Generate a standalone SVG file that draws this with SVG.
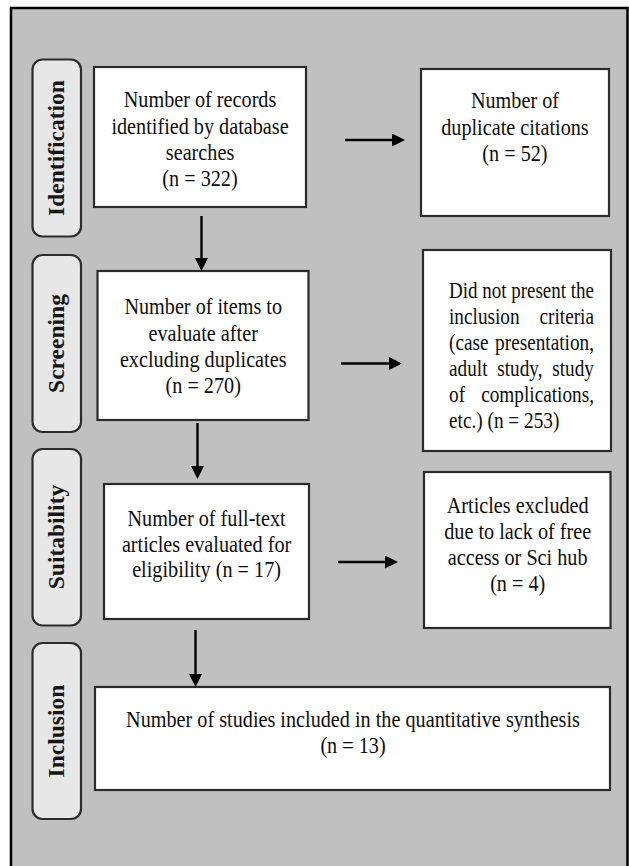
<svg xmlns="http://www.w3.org/2000/svg" width="629" height="866" viewBox="0 0 629 866">
<style>
.bg{fill:#c0c0c0;stroke:#000;stroke-width:2.5}
.box{fill:#fff;stroke:#2b2b2b;stroke-width:2.2}
.pill{fill:#e7e7e7;stroke:#2b2b2b;stroke-width:2.2}
.t{font-family:"Liberation Serif","Times New Roman",serif;font-size:23.5px;fill:#0d0d0d}
.c{text-anchor:middle}
.e{text-anchor:end}
.lab{font-family:"Liberation Serif","Times New Roman",serif;font-size:23.5px;font-weight:bold;fill:#151515;text-anchor:middle}
.con line{stroke:#000;stroke-width:2.4;marker-end:url(#ah)}
</style>
<defs>
<marker id="ah" markerUnits="userSpaceOnUse" markerWidth="14" markerHeight="14" refX="6" refY="6.5" orient="auto">
<path d="M0,0 L13,6.5 L0,13 z" fill="#000"/>
</marker>
</defs>
<rect width="629" height="866" fill="#fff"/>
<rect class="bg" x="11" y="8" width="616.5" height="880"/>

<g id="stage-identification">
<rect class="pill" x="32.5" y="59.5" width="48.5" height="177" rx="10"/>
<text class="lab" x="63.5" y="148" transform="rotate(-90 63.5 148)">Identification</text>
</g>
<g id="stage-screening">
<rect class="pill" x="32.5" y="255" width="48.5" height="177" rx="10"/>
<text class="lab" x="63.5" y="343.5" transform="rotate(-90 63.5 343.5)">Screening</text>
</g>
<g id="stage-suitability">
<rect class="pill" x="32.5" y="449" width="48.5" height="176.5" rx="10"/>
<text class="lab" x="63.5" y="537" transform="rotate(-90 63.5 537)">Suitability</text>
</g>
<g id="stage-inclusion">
<rect class="pill" x="32.5" y="643" width="48.5" height="176" rx="10"/>
<text class="lab" x="63.5" y="731" transform="rotate(-90 63.5 731)">Inclusion</text>
</g>

<g id="records">
<rect class="box" x="94" y="67" width="212" height="140"/>
<g transform="scale(0.86 1)">
<text class="t c" x="232.6" y="107.5">Number of records</text>
<text class="t c" x="232.6" y="133.8">identified by database</text>
<text class="t c" x="232.6" y="160.1">searches</text>
<text class="t c" x="232.6" y="186.4">(n = 322)</text>
</g>
</g>

<g id="duplicates">
<rect class="box" x="421" y="69" width="188" height="147"/>
<g transform="scale(0.86 1)">
<text class="t c" x="598.8" y="108.5">Number of</text>
<text class="t c" x="598.8" y="135">duplicate citations</text>
<text class="t c" x="598.8" y="161.5">(n = 52)</text>
</g>
</g>

<g id="screened">
<rect class="box" x="97.5" y="271" width="211" height="149"/>
<g transform="scale(0.86 1)">
<text class="t c" x="236.3" y="314.5">Number of items to</text>
<text class="t c" x="236.3" y="340.8">evaluate after</text>
<text class="t c" x="236.3" y="367.1">excluding duplicates</text>
<text class="t c" x="236.3" y="393.4">(n = 270)</text>
</g>
</g>

<g id="excluded-criteria">
<rect class="box" x="423" y="250" width="188" height="201"/>
<g transform="scale(0.82 1)">
<text class="t" x="547.6" y="298" textLength="176.8" lengthAdjust="spacingAndGlyphs">Did not present the</text>
<text class="t" x="547.6" y="324.5">inclusion</text>
<text class="t e" x="724.4" y="324.5">criteria</text>
<text class="t" x="547.6" y="350.5">(case</text>
<text class="t e" x="724.4" y="350.5">presentation,</text>
<text class="t" x="547.6" y="376.5">adult</text>
<text class="t c" x="634" y="376.5">study,</text>
<text class="t e" x="724.4" y="376.5">study</text>
<text class="t" x="547.6" y="402.5">of</text>
<text class="t e" x="724.4" y="402.5">complications,</text>
<text class="t" x="547.6" y="428">etc.) (n = 253)</text>
</g>
</g>

<g id="fulltext">
<rect class="box" x="104" y="484" width="205" height="135"/>
<g transform="scale(0.86 1)">
<text class="t c" x="240.2" y="526">Number of full-text</text>
<text class="t c" x="240.2" y="552">articles evaluated for</text>
<text class="t c" x="240.2" y="577.5">eligibility (n = 17)</text>
</g>
</g>

<g id="excluded-access">
<rect class="box" x="424" y="472" width="186.5" height="156"/>
<g transform="scale(0.86 1)">
<text class="t c" x="602" y="513">Articles excluded</text>
<text class="t c" x="602" y="539">due to lack of free</text>
<text class="t c" x="602" y="565">access or Sci hub</text>
<text class="t c" x="602" y="591">(n = 4)</text>
</g>
</g>

<g id="included">
<rect class="box" x="95" y="687" width="515" height="103"/>
<g transform="scale(0.86 1)">
<text class="t c" x="410.5" y="727.3">Number of studies included in the quantitative synthesis</text>
<text class="t c" x="410.5" y="753.3">(n = 13)</text>
</g>
</g>

<g id="connectors" class="con">
<line x1="345" y1="140" x2="398" y2="140"/>
<line x1="201.5" y1="216" x2="201.5" y2="264"/>
<line x1="341" y1="363.5" x2="395" y2="363.5"/>
<line x1="197.5" y1="423" x2="197.5" y2="472"/>
<line x1="338" y1="562" x2="391" y2="562"/>
<line x1="195.5" y1="630" x2="195.5" y2="680"/>
</g>
</svg>
